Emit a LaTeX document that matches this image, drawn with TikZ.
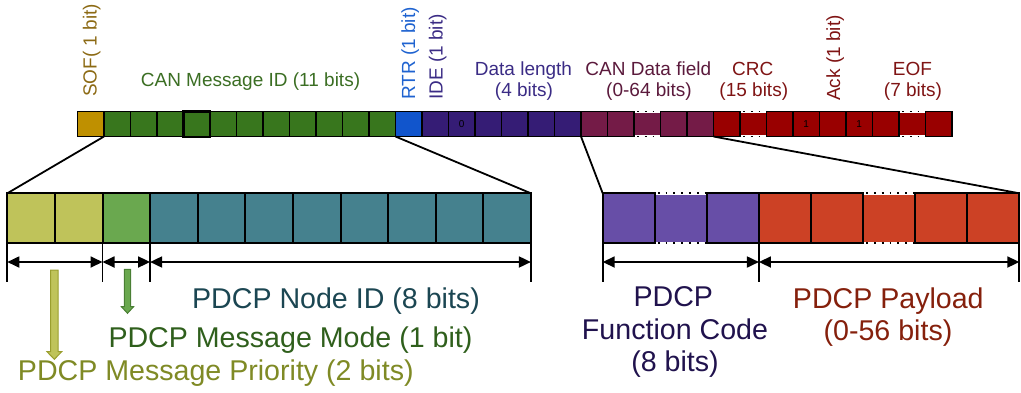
\documentclass[tikz,border=0pt]{standalone}
\usepackage{fontspec}
\setmainfont{Liberation Sans}
\usetikzlibrary{arrows.meta}

% cell fills
\definecolor{sofc}{HTML}{BF9000}
\definecolor{idc}{HTML}{38761D}
\definecolor{rtrc}{HTML}{1155CC}
\definecolor{ctlc}{HTML}{351C75}
\definecolor{datc}{HTML}{741B47}
\definecolor{crcc}{HTML}{990000}
\definecolor{prioc}{HTML}{BFC35A}
\definecolor{modec}{HTML}{6AA84F}
\definecolor{nodec}{HTML}{45818E}
\definecolor{funcc}{HTML}{674EA7}
\definecolor{payc}{HTML}{CC4125}
% label colours
\definecolor{softx}{HTML}{8C6A14}
\definecolor{idtx}{HTML}{3B6E23}
\definecolor{rtrtx}{HTML}{1F63D0}
\definecolor{ctltx}{HTML}{3B2C85}
\definecolor{dattx}{HTML}{5B1A3C}
\definecolor{crctx}{HTML}{7F1414}
\definecolor{nodetx}{HTML}{1B4652}
\definecolor{modetx}{HTML}{2F5F1C}
\definecolor{priotx}{HTML}{7F8A25}
\definecolor{functx}{HTML}{20124D}
\definecolor{paytx}{HTML}{85200C}
\definecolor{prioedge}{HTML}{9A9E2E}
\definecolor{modeedge}{HTML}{4A7F34}

\begin{document}
\begin{tikzpicture}[x=1pt,y=-1pt,
  tcell/.style={draw=black, line width=1.7pt, minimum width=26.5pt, minimum height=25pt,
                inner sep=0pt, outer sep=0pt, anchor=north west,
                font=\fontsize{10}{10}\selectfont, text=black},
  bcell/.style={draw=black, line width=2pt, minimum height=50pt,
                inner sep=0pt, outer sep=0pt, anchor=north west},
  lcell/.style={bcell, minimum width=47.6pt},
  rcell/.style={bcell, minimum width=52.08pt},
  toplbl/.style={font=\fontsize{19}{22}\selectfont, inner sep=0pt, anchor=base},
  sidelbl/.style={font=\fontsize{19}{22}\selectfont, inner sep=0pt, anchor=base west, rotate=90},
  biglbl/.style={font=\fontsize{28.6}{33}\selectfont, inner sep=0pt, anchor=base},
  zoomline/.style={draw=black, line width=1.8pt},
  tick/.style={draw=black, line width=1.8pt},
  span/.style={draw=black, line width=1.8pt, {Triangle[length=12pt,width=11pt]}-{Triangle[length=12pt,width=11pt]}},
  gapedge/.style={draw=white, line width=2.4pt},
  gapdots/.style={draw=black, line width=1.8pt, dash pattern=on 1.8pt off 6pt, dash phase=-2pt},
]
\useasboundingbox (0,0) rectangle (1021,392);

% ---------- CAN frame bit bar ----------
\node[tcell, fill=sofc] (t1) at (77.5,111.5) {};
\foreach \i in {2,...,12}
  \node[tcell, fill=idc] (t\i) at ({77.5+(\i-1)*26.5},111.5) {};
\node[tcell, fill=rtrc] (t13) at ({77.5+12*26.5},111.5) {};
\node[tcell, fill=ctlc] (t14) at ({77.5+13*26.5},111.5) {};
\node[tcell, fill=ctlc] (t15) at ({77.5+14*26.5},111.5) {0};
\foreach \i in {16,...,19}
  \node[tcell, fill=ctlc] (t\i) at ({77.5+(\i-1)*26.5},111.5) {};
\foreach \i in {20,...,24}
  \node[tcell, fill=datc] (t\i) at ({77.5+(\i-1)*26.5},111.5) {};
\foreach \i in {25,26,27,29,31,32,33}
  \node[tcell, fill=crcc] (t\i) at ({77.5+(\i-1)*26.5},111.5) {};
\node[tcell, fill=crcc] (t28) at ({77.5+27*26.5},111.5) {1};
\node[tcell, fill=crcc] (t30) at ({77.5+29*26.5},111.5) {1};
% one identifier bit carries a slightly heavier outline
\draw[black, line width=2.1pt] (t5.north west) rectangle ([yshift=-0.4pt]t5.south east);

% bits left out of the drawing: dotted top and bottom edges
\foreach \c in {t22,t26,t32}{
  \draw[gapedge] ([xshift=1pt]\c.north west) -- ([xshift=-1pt]\c.north east);
  \draw[gapedge] ([xshift=1pt]\c.south west) -- ([xshift=-1pt]\c.south east);
  \draw[gapdots] ([xshift=1pt]\c.north west) -- ([xshift=-1pt]\c.north east);
  \draw[gapdots] ([xshift=1pt]\c.south west) -- ([xshift=-1pt]\c.south east);
}

% ---------- field labels above the bar ----------
\node[sidelbl, text=softx] (lsof) at (96.5,97) {SOF( 1 bit)};
\node[toplbl, text=idtx] (lid) at (250.5,86) {CAN Message ID (11 bits)};
\node[sidelbl, text=rtrtx] (lrtr) at (415,100) {RTR (1 bit)};
\node[sidelbl, text=ctltx] (lide) at (442.5,100) {IDE (1 bit)};
\node[toplbl, text=ctltx] (ldlc) at (523.5,75) {Data length};
\node[toplbl, text=ctltx] (ldlcb) at (524,96.7) {(4 bits)};
\node[toplbl, text=dattx] (ldat) at (648.3,75) {CAN Data field};
\node[toplbl, text=dattx] (ldatb) at (649,96.7) {(0-64 bits)};
\node[toplbl, text=crctx] (lcrc) at (752.7,75) {CRC};
\node[toplbl, text=crctx] (lcrcb) at (753.8,96.7) {(15 bits)};
\node[sidelbl, text=crctx] (lack) at (840,101) {Ack (1 bit)};
\node[toplbl, text=crctx] (leof) at (912.5,75) {EOF};
\node[toplbl, text=crctx] (leofb) at (913,96.7) {(7 bits)};

% ---------- PDCP view of the identifier ----------
\node[lcell, fill=prioc] (b1) at (7.3,193.3) {};
\node[lcell, fill=prioc] (b2) at ({7.3+47.6},193.3) {};
\node[lcell, fill=modec] (b3) at ({7.3+2*47.6},193.3) {};
\foreach \i in {4,...,11}
  \node[lcell, fill=nodec] (b\i) at ({7.3+(\i-1)*47.6},193.3) {};

% ---------- PDCP view of the data field ----------
\foreach \i in {1,2,3}
  \node[rcell, fill=funcc] (r\i) at ({602.7+(\i-1)*52.08},193.3) {};
\foreach \i in {4,...,8}
  \node[rcell, fill=payc] (r\i) at ({602.7+(\i-1)*52.08},193.3) {};
\foreach \c in {r2,r6}{
  \draw[gapedge] ([xshift=1pt]\c.north west) -- ([xshift=-1pt]\c.north east);
  \draw[gapedge] ([xshift=1pt]\c.south west) -- ([xshift=-1pt]\c.south east);
  \draw[gapdots] ([xshift=1pt]\c.north west) -- ([xshift=-1pt]\c.north east);
  \draw[gapdots] ([xshift=1pt]\c.south west) -- ([xshift=-1pt]\c.south east);
}

% ---------- zoom lines ----------
\draw[zoomline] (t1.south east) -- (b1.north west);
\draw[zoomline] (t12.south east) -- (b11.north east);
\draw[zoomline] (t19.south east) -- (r1.north west);
\draw[zoomline] (t24.south east) -- (r8.north east);

% ---------- extent markers ----------
\coordinate (lev) at (0,262);
\coordinate (bot) at (0,282);
\foreach \a in {b1.south west, b2.south east, b3.south east, b11.south east,
                r1.south west, r3.south east, r8.south east}
  \draw[tick] (\a) -- (\a |- bot);
\draw[span] (b1.south west |- lev) -- (b2.south east |- lev);
\draw[span] (b3.south west |- lev) -- (b3.south east |- lev);
\draw[span] (b4.south west |- lev) -- (b11.south east |- lev);
\draw[span] (r1.south west |- lev) -- (r3.south east |- lev);
\draw[span] (r4.south west |- lev) -- (r8.south east |- lev);

% ---------- pointer arrows ----------
\draw[line width=1pt, draw=prioedge, fill=prioc]
  (50.7,270) -- (58,270) -- (58,351.7) -- (61.7,351.7) -- (54.3,359.3)
  -- (47,351.7) -- (50.7,351.7) -- cycle;
\draw[line width=1pt, draw=modeedge, fill=modec]
  (124.3,269.3) -- (130.7,269.3) -- (130.7,306.7) -- (133.6,306.7) -- (127.5,313.3)
  -- (121.4,306.7) -- (124.3,306.7) -- cycle;

% ---------- PDCP field names ----------
\node[biglbl, text=nodetx] (lnode) at (336,308.3) {PDCP Node ID (8 bits)};
\node[biglbl, text=modetx] (lmode) at (290.5,347.3) {PDCP Message Mode (1 bit)};
\node[biglbl, text=priotx] (lprio) at (215.8,380) {PDCP Message Priority (2 bits)};
\node[biglbl, text=functx] (lfunc) at (673.3,306) {PDCP};
\node[biglbl, text=functx] (lfuncb) at (675,339) {Function Code};
\node[biglbl, text=functx] (lfuncc) at (675,371.5) {(8 bits)};
\node[biglbl, text=paytx] (lpay) at (888.3,308.3) {PDCP Payload};
\node[biglbl, text=paytx] (lpayb) at (888,340) {(0-56 bits)};
\end{tikzpicture}
\end{document}
